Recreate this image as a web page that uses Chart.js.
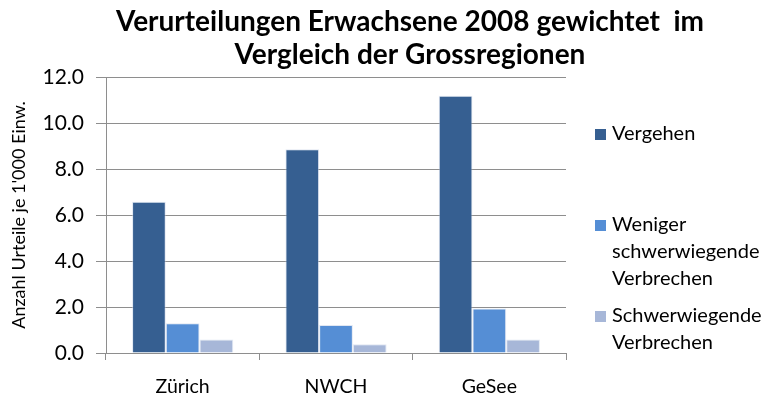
<!DOCTYPE html>
<html>
<head>
<meta charset="utf-8">
<script src="https://cdn.jsdelivr.net/npm/chart.js@4.4.1/dist/chart.umd.min.js"></script>
<style>
  html, body { margin: 0; padding: 0; background: #fff; }
  #wrap { width: 764px; height: 401px; position: relative; }
</style>
</head>
<body>
<div id="wrap"><canvas id="c" width="764" height="401"></canvas></div>
<script>
// Regionen und Urteile je 1'000 Einwohner (2008, gewichtet)
const regions = ["Zürich", "NWCH", "GeSee"];
const vergehen = [6.58, 8.86, 11.19];
const wenigerSchwer = [1.29, 1.22, 1.94];
const schwer = [0.59, 0.38, 0.59];

const seriesNames = ["Vergehen", "Weniger schwerwiegende Verbrechen", "Schwerwiegende Verbrechen"];
const legendLines = [["Vergehen"], ["Weniger", "schwerwiegende", "Verbrechen"], ["Schwerwiegende", "Verbrechen"]];
const titleLines = ["Verurteilungen Erwachsene 2008 gewichtet  im", "Vergleich der Grossregionen"];
const yTicks = [0, 2, 4, 6, 8, 10, 12];
const yAxisTitle = "Anzahl Urteile je 1'000 Einw.";

const colors = ["#365F91", "#558ED5", "#A7B7D8"];
const FONT = "Lato, 'Open Sans', sans-serif";
const gridColor = "#8E8E8E";

// Zweizeiliger Titel, über dem Diagramm zentriert
const headline = {
  id: "headline",
  afterDraw(chart) {
    const ctx = chart.ctx;
    ctx.save();
    ctx.fillStyle = "#000";
    ctx.font = "bold 28px " + FONT;
    ctx.textAlign = "center";
    ctx.textBaseline = "alphabetic";
    titleLines.forEach((t, i) => ctx.fillText(t, 410, 31 + i * 33));
    ctx.restore();
  }
};

// Legende rechts mit umbrochenen Einträgen
const sideLegend = {
  id: "sideLegend",
  afterDraw(chart) {
    const ctx = chart.ctx;
    const starts = [134, 225, 316];
    ctx.save();
    ctx.font = "20px " + FONT;
    ctx.textBaseline = "middle";
    ctx.textAlign = "left";
    chart.data.datasets.forEach((ds, i) => {
      const y0 = starts[i];
      ctx.fillStyle = ds.backgroundColor;
      ctx.fillRect(595, y0 - 5, 11, 11);
      ctx.fillStyle = "#000";
      legendLines[i].forEach((line, j) => ctx.fillText(line, 612, y0 + j * 27));
    });
    ctx.restore();
  }
};

new Chart(document.getElementById("c"), {
  type: "bar",
  data: {
    labels: regions,
    datasets: [vergehen, wenigerSchwer, schwer].map((vals, i) => ({
      label: seriesNames[i],
      data: vals,
      backgroundColor: colors[i],
      borderColor: "rgba(200,212,232,0.55)",
      borderWidth: 1,
      categoryPercentage: 0.66,
      barPercentage: 1.0
    }))
  },
  options: {
    responsive: false,
    animation: false,
    devicePixelRatio: 1,
    layout: { padding: { top: 77, right: 198, left: 0, bottom: 0 } },
    plugins: {
      legend: { display: false },
      title: { display: false },
      tooltip: { enabled: false }
    },
    scales: {
      x: {
        offset: true,
        grid: { drawOnChartArea: false, drawTicks: true, tickLength: 7, color: gridColor },
        border: { color: gridColor, width: 1 },
        ticks: { color: "#000", font: { family: FONT, size: 19.5 }, padding: 15 },
        afterFit(scale) { scale.height = 48; }
      },
      y: {
        min: 0,
        max: 12,
        afterBuildTicks(scale) { scale.ticks = yTicks.map(v => ({ value: v })); },
        grid: { color: gridColor, tickLength: 10, drawTicks: true },
        border: { color: gridColor, width: 1 },
        ticks: {
          color: "#000",
          font: { family: FONT, size: 21 },
          padding: 12,
          callback: v => v.toFixed(1)
        },
        title: {
          display: true,
          text: yAxisTitle,
          color: "#000",
          font: { family: FONT, size: 18 },
          padding: { top: 8, bottom: 0 }
        },
        afterFit(scale) { scale.width = 106; }
      }
    }
  },
  plugins: [headline, sideLegend]
});
</script>
</body>
</html>
